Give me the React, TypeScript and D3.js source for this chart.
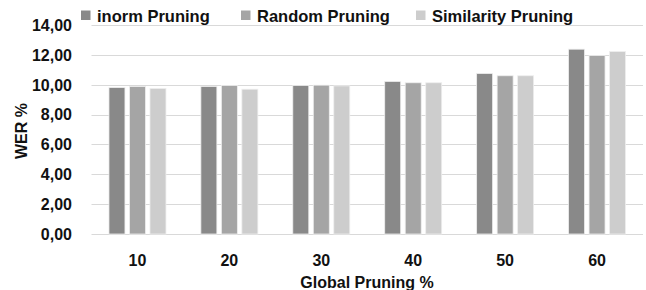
import React, { useEffect, useRef } from "react";
import * as d3 from "d3";

const categories = ["10", "20", "30", "40", "50", "60"];
const seriesNames = ["inorm Pruning", "Random Pruning", "Similarity Pruning"];
const inormValues = [9.81, 9.88, 9.95, 10.22, 10.75, 12.38];
const randomValues = [9.88, 9.95, 9.97, 10.13, 10.6, 11.95];
const similarityValues = [9.75, 9.7, 9.92, 10.13, 10.6, 12.22];
const yTicks = [0, 2, 4, 6, 8, 10, 12, 14];
const colors = ["#898989", "#a5a5a5", "#cdcdcd"];

const App = () => {
  const svgRef = useRef<SVGSVGElement>(null);

  useEffect(() => {
    const width = 646;
    const height = 290;
    const font = "'Liberation Sans', Arial, sans-serif";

    const svg = d3.select(svgRef.current);
    svg.selectAll("*").remove();

    const values = [inormValues, randomValues, similarityValues];
    const fmt = d3
      .formatLocale({ decimal: ",", thousands: ".", grouping: [3], currency: ["", ""] })
      .format(".2f");

    const x0 = d3
      .scaleBand()
      .domain(categories)
      .range([91.5, 643])
      .paddingInner(0.38)
      .paddingOuter(0.19);
    const x1 = d3
      .scaleBand()
      .domain(seriesNames)
      .range([0, x0.bandwidth()])
      .paddingInner(0.22);
    const y = d3.scaleLinear().domain([0, 14]).range([234, 25]);

    // gridlines
    svg
      .append("g")
      .selectAll("line")
      .data(yTicks)
      .join("line")
      .attr("x1", 91.5)
      .attr("x2", 643)
      .attr("y1", (d) => Math.round(y(d)) + 0.5)
      .attr("y2", (d) => Math.round(y(d)) + 0.5)
      .attr("stroke", "#d9d9d9")
      .attr("stroke-width", 1);

    // y tick labels
    svg
      .append("g")
      .selectAll("text")
      .data(yTicks)
      .join("text")
      .attr("x", 72)
      .attr("y", (d) => y(d))
      .attr("dy", "0.37em")
      .attr("text-anchor", "end")
      .attr("font-family", font)
      .attr("font-weight", "bold")
      .attr("font-size", 16)
      .attr("fill", "#111")
      .text((d) => fmt(d));

    // bars
    seriesNames.forEach((name, si) => {
      svg
        .append("g")
        .selectAll("rect")
        .data(values[si])
        .join("rect")
        .attr("x", (d, i) => (x0(categories[i]) as number) + (x1(name) as number))
        .attr("y", (d) => y(d))
        .attr("width", x1.bandwidth())
        .attr("height", (d) => y(0) - y(d))
        .attr("fill", colors[si])
        .attr("stroke", "#eeeeee")
        .attr("stroke-width", 0.8);
    });

    // x tick labels
    svg
      .append("g")
      .selectAll("text")
      .data(categories)
      .join("text")
      .attr("x", (d) => (x0(d) as number) + x0.bandwidth() / 2)
      .attr("y", 265.5)
      .attr("text-anchor", "middle")
      .attr("font-family", font)
      .attr("font-weight", "bold")
      .attr("font-size", 16)
      .attr("fill", "#111")
      .text((d) => d);

    // axis titles
    svg
      .append("text")
      .attr("x", 367)
      .attr("y", 287.5)
      .attr("text-anchor", "middle")
      .attr("font-family", font)
      .attr("font-weight", "bold")
      .attr("font-size", 16)
      .attr("fill", "#111")
      .text("Global Pruning %");

    svg
      .append("text")
      .attr("transform", "translate(26.5,131) rotate(-90)")
      .attr("text-anchor", "middle")
      .attr("font-family", font)
      .attr("font-weight", "bold")
      .attr("font-size", 16)
      .attr("fill", "#111")
      .text("WER %");

    // legend
    const legendX = [81, 241, 416];
    const legend = svg
      .append("g")
      .selectAll("g")
      .data(seriesNames)
      .join("g")
      .attr("transform", (d, i) => `translate(${legendX[i]},0)`);
    legend
      .append("rect")
      .attr("x", 0)
      .attr("y", 10.5)
      .attr("width", 9.5)
      .attr("height", 9.5)
      .attr("fill", (d, i) => colors[i]);
    legend
      .append("text")
      .attr("x", 16)
      .attr("y", 22)
      .attr("font-family", font)
      .attr("font-weight", "bold")
      .attr("font-size", 16.5)
      .attr("fill", "#111")
      .text((d) => d);

    svg.attr("width", width).attr("height", height);
  }, []);

  return (
    <svg
      ref={svgRef}
      width={646}
      height={290}
      style={{ position: "absolute", left: 0, top: 0, background: "#fff" }}
    ></svg>
  );
};

export default App;
